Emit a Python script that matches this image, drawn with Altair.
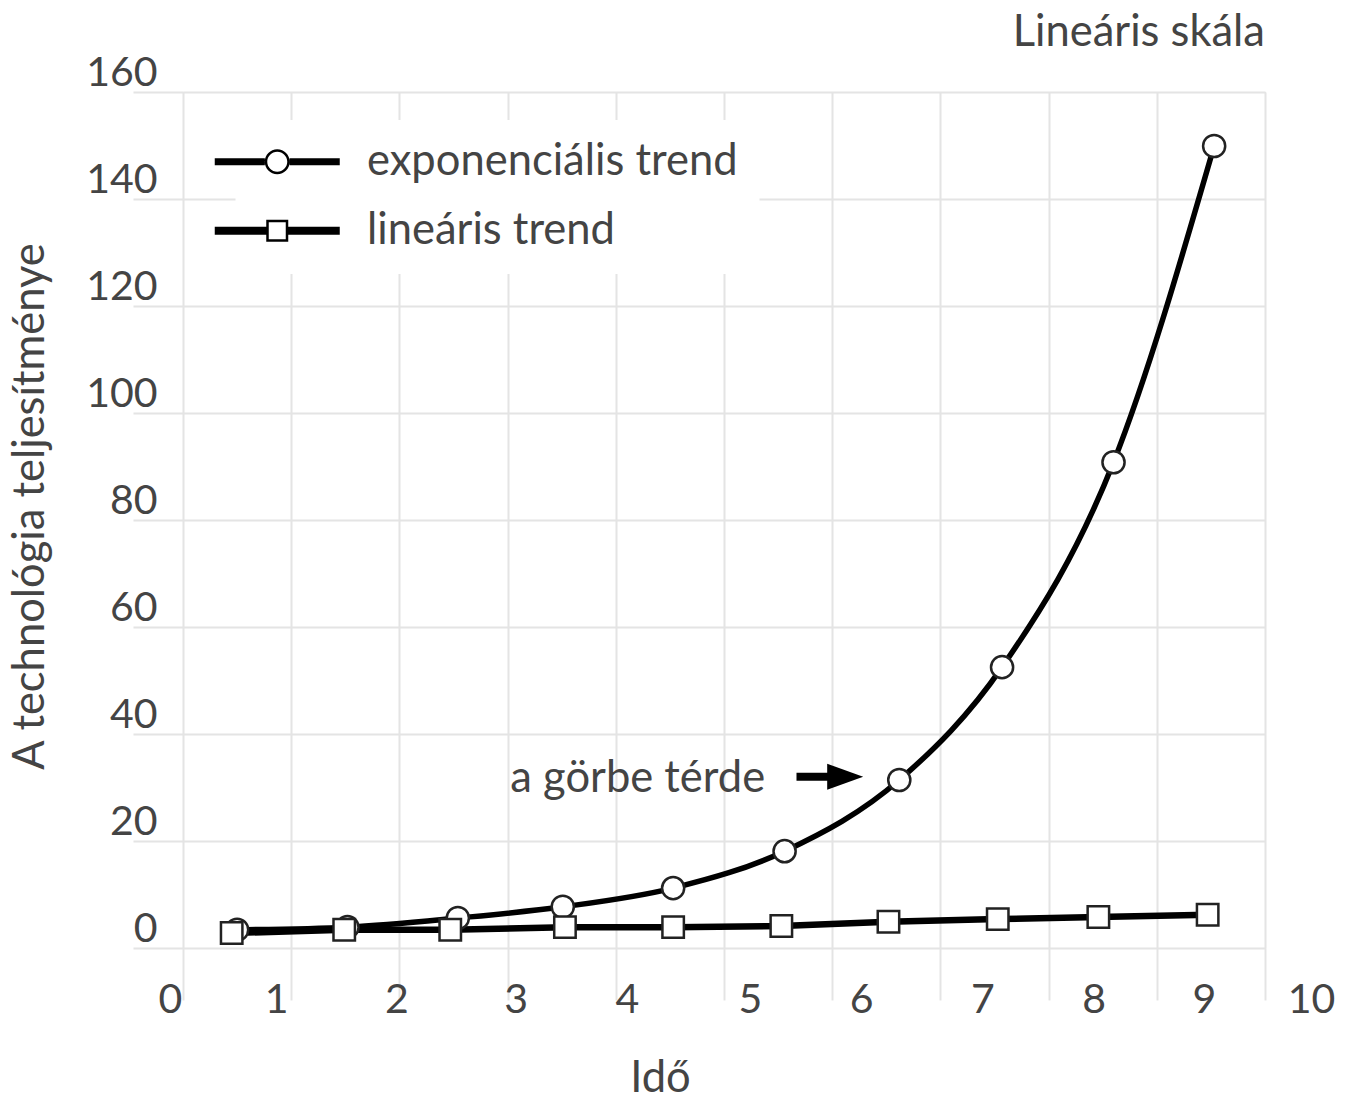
import altair as alt
import pandas as pd

# ---- data ----
exp_label = "exponenciális trend"
lin_label = "lineáris trend"

exp_x = [0.50, 1.52, 2.54, 3.51, 4.53, 5.56, 6.62, 7.57, 8.60, 9.53]
exp_y = [3.4, 3.9, 5.6, 7.7, 11.2, 18.1, 31.4, 52.5, 90.8, 149.9]

lin_x = [0.45, 1.49, 2.47, 3.53, 4.53, 5.53, 6.52, 7.53, 8.46, 9.47]
lin_y = [2.8, 3.4, 3.4, 3.9, 3.9, 4.1, 4.9, 5.4, 5.8, 6.2]

x_ticks = list(range(0, 11))
y_ticks = list(range(0, 161, 20))

title_text = "Lineáris skála"
x_title = "Idő"
y_title = "A technológia teljesítménye"

ann_text = ["a görbe térde"]
ann_x = [5.38]
ann_y = [29.2]
arrow_x = [5.67]
arrow_x2 = [6.05]
arrow_head_x = [6.12]
arrow_y = [32.0]

# ---- styles ----
GRID = "#e4e4e4"
TXT = "#444444"
FONT = "Lato"
FS = 43.5

df = pd.DataFrame({
    "series": [exp_label] * len(exp_x) + [lin_label] * len(lin_x),
    "x": exp_x + lin_x,
    "y": exp_y + lin_y,
})
ann = pd.DataFrame({"text": ann_text, "x": ann_x, "y": ann_y})
arrow = pd.DataFrame({"x": arrow_x, "x2": arrow_x2, "hx": arrow_head_x, "y": arrow_y})

x_label_shift = "[-13,-15,-3,8,11,26,29,42,45,47,46][datum.value]"

xscale = alt.Scale(domain=[0, 10], nice=False)
yscale = alt.Scale(domain=[0, 160], nice=False)

xaxis = alt.Axis(
    values=x_ticks, format="d", grid=True, gridColor=GRID, gridWidth=2,
    ticks=True, tickSize=52, tickColor=GRID, tickWidth=2, domain=False,
    labelFont=FONT, labelFontSize=41, labelColor=TXT, labelBaseline="alphabetic",
    labelPadding=12, labelOffset=alt.ExprRef(expr=x_label_shift), labelFlush=False,
    labelOverlap=False, labelAlign="center",
    title=x_title, titleFont=FONT, titleFontSize=FS, titleFontWeight="normal",
    titleColor=TXT, titleX=477, titleY=143, titleBaseline="alphabetic", titleAlign="center",
)
yaxis = alt.Axis(
    values=y_ticks, format="d", grid=True, gridColor=GRID, gridWidth=2,
    ticks=True, tickSize=50, tickColor=GRID, tickWidth=2, domain=False,
    labelFont=FONT, labelFontSize=41, labelColor=TXT, labelBaseline="alphabetic",
    labelPadding=-24, labelOffset=-7, labelFlush=False, labelOverlap=False,
    title=y_title, titleFont=FONT, titleFontSize=FS, titleFontWeight="normal",
    titleColor=TXT, titleAngle=270, titleX=-140, titleY=414,
    titleBaseline="alphabetic", titleAlign="center",
)

base = alt.Chart(df)

exp_line = base.transform_filter(alt.datum.series == exp_label).mark_line(
    color="#000", strokeWidth=5.5, interpolate="monotone"
).encode(x=alt.X("x:Q", scale=xscale, axis=xaxis), y=alt.Y("y:Q", scale=yscale, axis=yaxis))

lin_line = base.transform_filter(alt.datum.series == lin_label).mark_line(
    color="#000", strokeWidth=6.5
).encode(x=alt.X("x:Q", scale=xscale), y=alt.Y("y:Q", scale=yscale))

circles = base.transform_filter(alt.datum.series == exp_label).mark_point(
    shape="circle", filled=True, fill="white", stroke="#222", strokeWidth=2.5,
    size=490, opacity=1
).encode(x="x:Q", y="y:Q")

squares = base.transform_filter(alt.datum.series == lin_label).mark_point(
    shape="square", filled=True, fill="white", stroke="#222", strokeWidth=2.5,
    size=460, opacity=1
).encode(x="x:Q", y="y:Q")

circle_sym = ("M-3.125,-0.175H-0.62V0.175H-3.125Z M0.62,-0.175H3.125V0.175H0.62Z "
              "M0.625,0A0.625,0.625 0 1,0 -0.625,0A0.625,0.625 0 1,0 0.625,0Z "
              "M0.5,0A0.5,0.5 0 1,1 -0.5,0A0.5,0.5 0 1,1 0.5,0Z")
square_sym = ("M-3.125,-0.2H-0.55V0.2H-3.125Z M0.55,-0.2H3.125V0.2H0.55Z "
              "M-0.55,-0.55H0.55V0.55H-0.55Z M-0.425,-0.425V0.425H0.425V-0.425Z")

legend_layer = base.transform_filter("false").mark_point(
    filled=True, color="#000", opacity=1
).encode(
    shape=alt.Shape(
        "series:N",
        scale=alt.Scale(domain=[exp_label, lin_label], range=[circle_sym, square_sym]),
        legend=alt.Legend(
            title=None, orient="none", legendX=52.5, legendY=28,
            symbolSize=1600, symbolFillColor="#000", symbolStrokeWidth=0,
            labelFont=FONT, labelFontSize=FS, labelColor=TXT, labelOffset=68,
            labelLimit=0, rowPadding=24, padding=20, fillColor="white",
            strokeColor="white",
        ),
    )
)

ann_text_layer = alt.Chart(ann).mark_text(
    align="right", baseline="alphabetic", font=FONT, fontSize=FS, color=TXT
).encode(x="x:Q", y="y:Q", text="text:N")

arrow_shaft = alt.Chart(arrow).mark_rule(color="#000", strokeWidth=8).encode(
    x="x:Q", x2="x2:Q", y="y:Q"
)
arrow_head = alt.Chart(arrow).mark_point(
    shape="M-1,-0.72L1,0L-1,0.72Z", filled=True, color="#000", size=1296, opacity=1
).encode(x="hx:Q", y="y:Q")

chart = alt.layer(
    exp_line, lin_line, circles, squares, legend_layer,
    ann_text_layer, arrow_shaft, arrow_head
).properties(
    width=1082, height=856,
    padding={"left": 175, "top": 84, "right": 72, "bottom": 150},
    autosize=alt.AutoSizeParams(type="none"),
    title=alt.TitleParams(
        text=title_text, anchor="end", frame="group", font=FONT, fontSize=FS,
        fontWeight="normal", color=TXT, baseline="alphabetic", offset=10, dy=47,
    ),
).configure_view(stroke=None).configure(background="white")

chart.save("out.html", embed_options={"renderer": "svg", "actions": False})
